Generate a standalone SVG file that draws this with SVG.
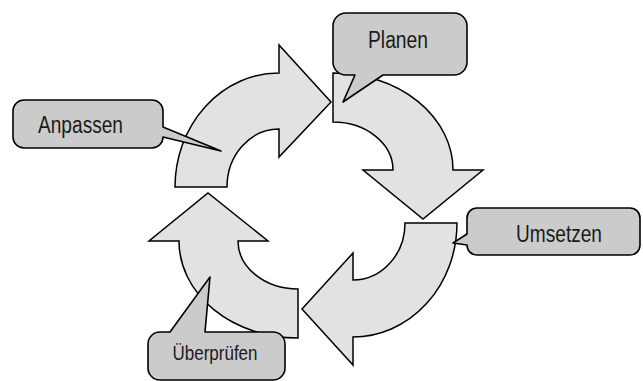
<svg xmlns="http://www.w3.org/2000/svg" width="643" height="381" viewBox="0 0 643 381">
  <style>
    .arrow { fill: #e2e2e2; stroke: #000; stroke-width: 1.5; stroke-linejoin: miter; }
    .callout { fill: #cbcbcb; stroke: #000; stroke-width: 1.6; stroke-linejoin: round; }
    .label { font-family: "Liberation Sans", Arial, sans-serif; font-size: 23px; fill: #1a1a1a; text-anchor: middle; }
    .small { font-size: 21px; }
  </style>
  <rect width="643" height="381" fill="#fff"/>
  <g id="connectors">
    <path id="arrow-anpassen-planen" class="arrow" d="M 175,187 A 104,114 0 0 1 279,73 L 279,45 L 331,102 L 279,157 L 279,129 A 52,58 0 0 0 227,187 Z"/>
    <path id="arrow-planen-umsetzen" class="arrow" d="M 333,73 A 120,97 0 0 1 453,170 L 483,170 L 423,219 L 363,170 L 393,170 A 60,48 0 0 0 333,122 Z"/>
    <path id="arrow-umsetzen-ueberpruefen" class="arrow" d="M 457,223 A 104,114 0 0 1 353,337 L 353,365 L 302,309 L 353,253 L 353,280 A 52,57 0 0 0 405,223 Z"/>
    <path id="arrow-ueberpruefen-anpassen" class="arrow" d="M 298,338 A 119,97 0 0 1 179,241 L 149,241 L 208,193 L 268,241 L 238,241 A 60,48 0 0 0 298,289 Z"/>
  </g>
  <g id="node-planen">
    <path class="callout" d="M 346,13 H 454 A 13,13 0 0 1 467,26 V 62 A 13,13 0 0 1 454,75 H 383 L 343,102 L 355,75 H 346 A 13,13 0 0 1 333,62 V 26 A 13,13 0 0 1 346,13 Z"/>
    <text class="label" x="398" y="48" textLength="60" lengthAdjust="spacingAndGlyphs">Planen</text>
  </g>
  <g id="node-umsetzen">
    <path class="callout" d="M 477,208 H 630 A 10,10 0 0 1 640,218 V 245 A 10,10 0 0 1 630,255 H 477 A 10,10 0 0 1 467,245 L 453,243 L 467,234 V 218 A 10,10 0 0 1 477,208 Z"/>
    <text class="label" x="559" y="242" textLength="86" lengthAdjust="spacingAndGlyphs">Umsetzen</text>
  </g>
  <g id="node-anpassen">
    <path class="callout" d="M 24,100 H 152 A 11,11 0 0 1 163,111 V 127 L 221,151 L 163,137 A 11,11 0 0 1 152,148 H 24 A 11,11 0 0 1 13,137 V 111 A 11,11 0 0 1 24,100 Z"/>
    <text class="label" x="80.5" y="133" textLength="85" lengthAdjust="spacingAndGlyphs">Anpassen</text>
  </g>
  <g id="node-ueberpruefen">
    <path class="callout" d="M 160,332 H 170 L 210,277 L 205,332 H 273 A 12,12 0 0 1 285,344 V 368 A 12,12 0 0 1 273,380 H 160 A 12,12 0 0 1 148,368 V 344 A 12,12 0 0 1 160,332 Z"/>
    <text class="label small" x="215" y="360" textLength="85" lengthAdjust="spacingAndGlyphs">Überprüfen</text>
  </g>
</svg>
